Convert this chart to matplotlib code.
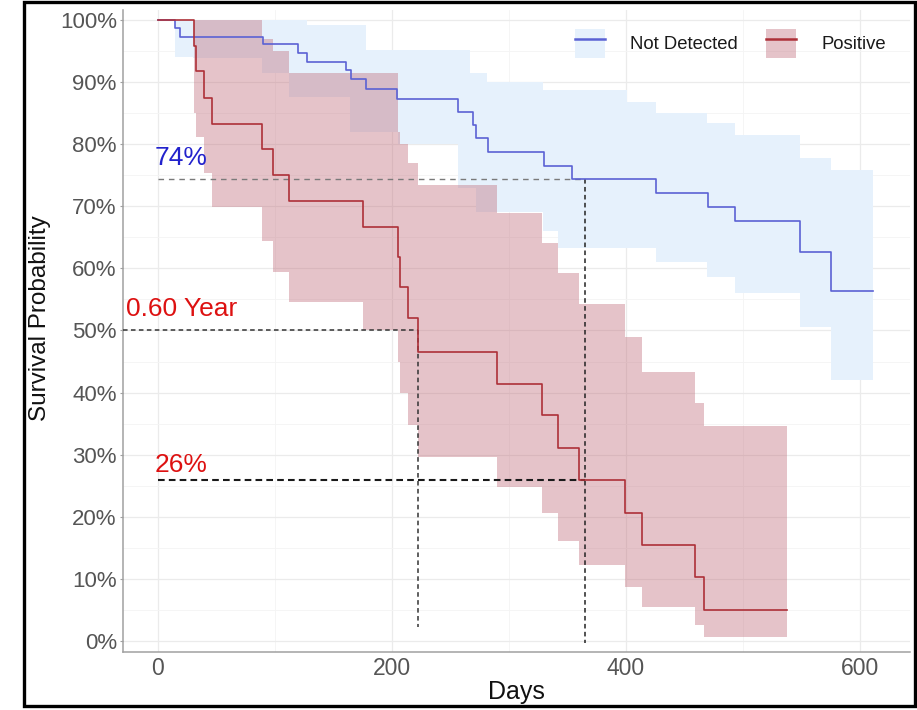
import matplotlib
matplotlib.use("Agg")
import matplotlib.pyplot as plt
from matplotlib.patches import Patch, Rectangle
from matplotlib.lines import Line2D
from matplotlib.legend_handler import HandlerTuple
from matplotlib.ticker import PercentFormatter, MultipleLocator

plt.rcParams['font.family'] = ['Liberation Sans', 'DejaVu Sans']

# ---------------- data ----------------
groups = ["Not Detected", "Positive"]

# Not Detected: Kaplan-Meier step curve
nd_time = [0, 14.5, 19, 90, 120, 127, 161, 165, 178, 204, 256, 269, 272, 282,
           330, 354, 426, 470, 493, 549, 575, 611]
nd_surv = [1.000, 0.987, 0.972, 0.961, 0.947, 0.932, 0.920, 0.905, 0.889, 0.872,
           0.852, 0.831, 0.810, 0.788, 0.765, 0.744, 0.721, 0.699, 0.677, 0.626,
           0.564, 0.564]
# Not Detected: confidence band
nd_ci_time = [0, 14.5, 30, 89, 112, 127, 164, 178, 205, 256, 267, 272, 281, 329,
              342, 354, 401, 426, 469, 493, 549, 575, 611]
nd_upper = [1.000, 1.000, 1.000, 1.000, 1.000, 0.992, 0.992, 0.952, 0.952, 0.952,
            0.915, 0.915, 0.900, 0.887, 0.887, 0.887, 0.868, 0.850, 0.834, 0.815,
            0.778, 0.758, 0.758]
nd_lower = [1.000, 0.940, 0.939, 0.915, 0.876, 0.876, 0.820, 0.820, 0.800, 0.730,
            0.730, 0.690, 0.690, 0.660, 0.633, 0.633, 0.633, 0.610, 0.586, 0.560,
            0.506, 0.420, 0.420]

# Positive: Kaplan-Meier step curve + confidence band
pos_time = [0, 31, 32.6, 39, 46, 89, 98.5, 112, 175, 205, 207, 214, 222, 290,
            328, 342, 360, 399, 414, 459, 467, 538]
pos_surv = [1.000, 0.958, 0.917, 0.875, 0.833, 0.792, 0.750, 0.708, 0.667, 0.618,
            0.570, 0.520, 0.465, 0.414, 0.364, 0.311, 0.259, 0.206, 0.155, 0.103,
            0.050, 0.050]
pos_upper = [1.000, 1.000, 1.000, 1.000, 1.000, 0.970, 0.950, 0.915, 0.915, 0.820,
             0.800, 0.770, 0.735, 0.689, 0.641, 0.593, 0.543, 0.490, 0.433, 0.383,
             0.346, 0.346]
pos_lower = [1.000, 0.850, 0.812, 0.753, 0.699, 0.644, 0.594, 0.546, 0.501, 0.449,
             0.400, 0.348, 0.296, 0.248, 0.206, 0.161, 0.122, 0.087, 0.055, 0.026,
             0.006, 0.006]

# annotations
nd_1yr_surv = 0.744
pos_1yr_surv = 0.259
one_year_day = 365
pos_median_day = 222
pos_median_label = "0.60 Year"

x_ticks = [0, 200, 400, 600]
y_ticks = [0, 0.1, 0.2, 0.3, 0.4, 0.5, 0.6, 0.7, 0.8, 0.9, 1.0]

# ---------------- figure ----------------
W, H = 917, 710
fig = plt.figure(figsize=(W / 100, H / 100), dpi=100)
ax = fig.add_axes([123 / W, 1 - 652 / H, 787 / W, 642 / H])

blue_line = "#5b62d4"
red_line = "#ad3038"
blue_band = "#e6f1fc"
red_band = "#c06b78"

# bands
ax.fill_between(nd_ci_time, nd_lower, nd_upper, step="post",
                color=blue_band, lw=0, zorder=1)
ax.fill_between(pos_time, pos_lower, pos_upper, step="post",
                color=red_band, alpha=0.4, lw=0, zorder=2)

# reference lines
ax.plot([0, one_year_day], [nd_1yr_surv, nd_1yr_surv], color="#7a7a7a",
        lw=1.0, ls=(0, (4.0, 3.5)), zorder=3)
ax.plot([0, one_year_day], [pos_1yr_surv, pos_1yr_surv], color="#1a1a1a",
        lw=1.5, ls=(0, (3.2, 2.0)), zorder=3)
ax.plot([-30, pos_median_day], [0.5, 0.5], color="#333333",
        lw=1.1, ls=(0, (3.0, 2.2)), zorder=3)
ax.plot([pos_median_day, pos_median_day], [0.5, 0.022], color="#333333",
        lw=1.1, ls=(0, (3.0, 2.2)), zorder=3)
ax.plot([one_year_day, one_year_day], [nd_1yr_surv, -0.003], color="#222222",
        lw=1.1, ls=(0, (3.0, 2.2)), zorder=3)

# curves
ax.step(nd_time, nd_surv, where="post", color=blue_line, lw=1.2, zorder=4)
ax.step(pos_time, pos_surv, where="post", color=red_line, lw=1.2, zorder=4)

# annotation text
ax.text(-2.5, 0.766, f"{nd_1yr_surv * 100:.0f}%", color="#2222cc",
        fontsize=19, va="baseline", ha="left")
ax.text(-27, 0.523, pos_median_label, color="#dd1111",
        fontsize=19, va="baseline", ha="left")
ax.text(-2.5, 0.272, f"{pos_1yr_surv * 100:.0f}%", color="#dd1111",
        fontsize=19, va="baseline", ha="left")

# axes styling
ax.set_xlim(-29.9, 642.7)
ax.set_ylim(-0.0177, 1.016)
ax.set_xticks(x_ticks)
ax.set_yticks(y_ticks)
ax.xaxis.set_minor_locator(MultipleLocator(100))
ax.yaxis.set_minor_locator(MultipleLocator(0.05))
ax.yaxis.set_major_formatter(PercentFormatter(xmax=1, decimals=0))
ax.grid(True, which="major", color="#ebebeb", lw=0.9, zorder=0)
ax.grid(True, which="minor", color="#f4f4f4", lw=0.6, zorder=0)
ax.set_axisbelow(True)
for s in ["top", "right"]:
    ax.spines[s].set_visible(False)
for s in ["left", "bottom"]:
    ax.spines[s].set_color("#a0a0a0")
    ax.spines[s].set_linewidth(1.1)
ax.tick_params(axis="y", which="major", length=2.5, width=0.8, color="#a0a0a0",
               labelsize=16, labelcolor="#555555", pad=2)
ax.tick_params(axis="x", which="major", length=0, labelsize=16.5,
               labelcolor="#555555", pad=3.5)
ax.tick_params(which="minor", length=0)

ax.set_xlabel("Days", fontsize=18, color="#111111", labelpad=0)
ax.set_ylabel("Survival Probability", fontsize=17.5, color="#111111")
ax.yaxis.set_label_coords(-0.092, 0.52)

# legend
handles = [
    (Patch(facecolor=blue_band, edgecolor="none"), Line2D([], [], color=blue_line, lw=1.8)),
    (Patch(facecolor=red_band, alpha=0.4, edgecolor="none"), Line2D([], [], color=red_line, lw=1.8)),
]
leg = fig.legend(handles, groups, handler_map={tuple: HandlerTuple(ndivide=1)},
                 loc="upper right", bbox_to_anchor=(886 / W, 1 - 29 / H),
                 bbox_transform=fig.transFigure, ncol=2, frameon=False,
                 fontsize=13.3, handlelength=1.6, handleheight=2.0,
                 handletextpad=1.4, columnspacing=1.5, borderpad=0,
                 borderaxespad=0)
for t in leg.get_texts():
    t.set_color("#1a1a1a")

# outer black frame
fig.patches.append(Rectangle((24 / W, 4 / H), (915 - 24) / W, (708 - 4) / H,
                             transform=fig.transFigure, fill=False,
                             edgecolor="black", lw=2.4, zorder=10))

fig.savefig("out.png", dpi=100)
